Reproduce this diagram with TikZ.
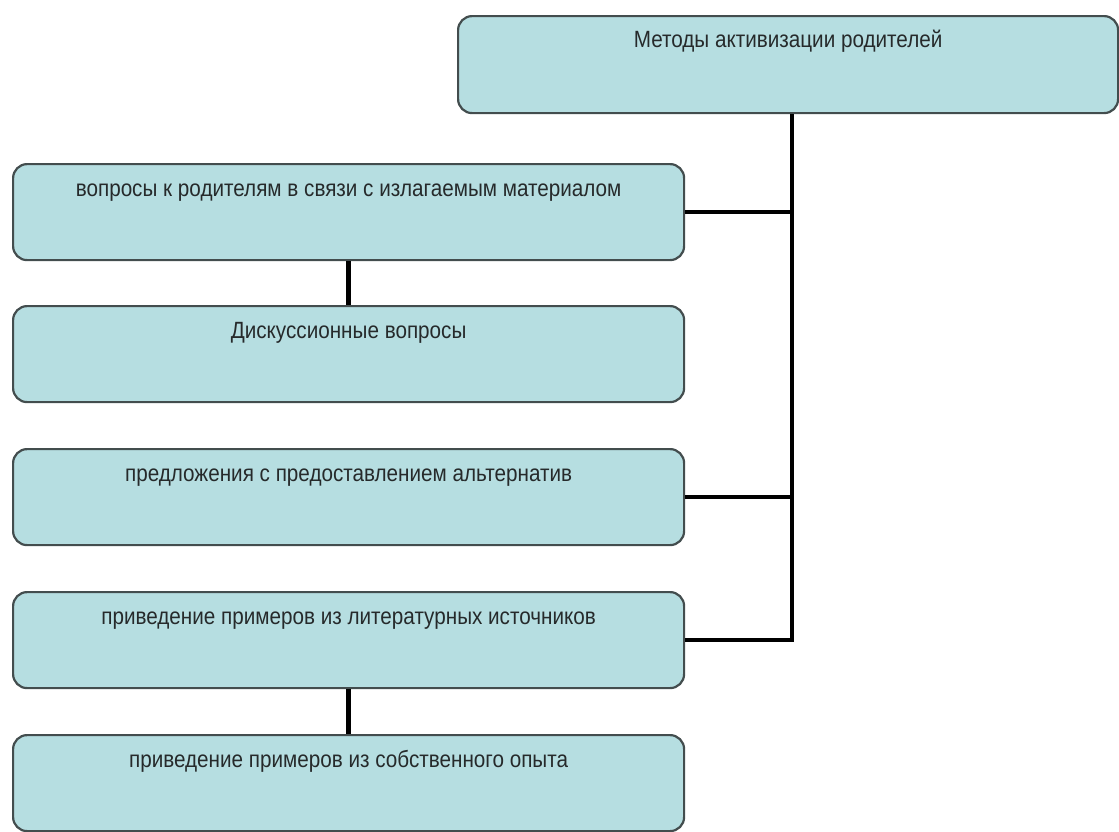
\documentclass[tikz,border=0pt]{standalone}
\usepackage{fontspec}
\setmainfont{Liberation Sans}
\newfontfamily\boxfont[FakeStretch=0.88]{Liberation Sans}
\definecolor{boxfill}{HTML}{B6DEE1}
\definecolor{boxline}{HTML}{434D4E}
\definecolor{boxtext}{HTML}{262A2B}
\tikzset{
  stepbox/.style={draw=boxline, line width=2.2pt, fill=boxfill, rounded corners=14pt,
    anchor=north west, inner sep=0pt, text height=32pt, text depth=64pt,
    font=\boxfont\fontsize{23.5}{25}\selectfont, text=boxtext},
  conn/.style={line width=4.5pt, black}
}
\begin{document}
\begin{tikzpicture}[x=1pt,y=-1pt]
\useasboundingbox (0,0) rectangle (1119,831);
\node[stepbox, minimum width=660pt, text height=31pt, text depth=66pt] (top) at (457,15) {Методы активизации родителей};
\node[stepbox, minimum width=671pt] (b1) at (12,163) {вопросы к родителям в связи с излагаемым материалом};
\node[stepbox, minimum width=671pt] (b2) at (12,305) {Дискуссионные вопросы};
\node[stepbox, minimum width=671pt] (b3) at (12,448) {предложения с предоставлением альтернатив};
\node[stepbox, minimum width=671pt] (b4) at (12,591) {приведение примеров из литературных источников};
\node[stepbox, minimum width=671pt] (b5) at (12,734) {приведение примеров из собственного опыта};
\coordinate (tr) at (792,0);
\draw[conn] (top.south -| tr) |- (b4.east);
\draw[conn] (b1.east) -- (b1.east -| tr);
\draw[conn] (b3.east) -- (b3.east -| tr);
\draw[conn] (b1.south) -- (b2.north);
\draw[conn] (b4.south) -- (b5.north);
\end{tikzpicture}
\end{document}
